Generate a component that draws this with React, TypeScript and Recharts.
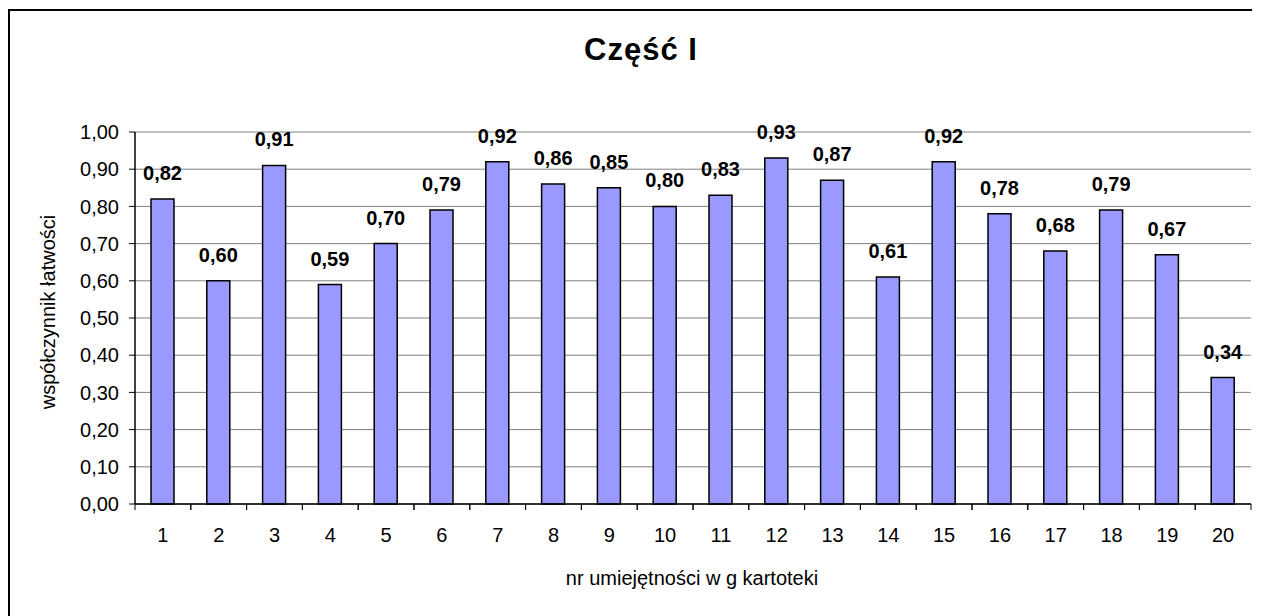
import { Bar, BarChart, CartesianGrid, LabelList, XAxis, YAxis } from "recharts";

const categories = ["1", "2", "3", "4", "5", "6", "7", "8", "9", "10", "11", "12", "13", "14", "15", "16", "17", "18", "19", "20"];
const easiness = [0.82, 0.6, 0.91, 0.59, 0.7, 0.79, 0.92, 0.86, 0.85, 0.8, 0.83, 0.93, 0.87, 0.61, 0.92, 0.78, 0.68, 0.79, 0.67, 0.34];
const yTicks = [0, 0.1, 0.2, 0.3, 0.4, 0.5, 0.6, 0.7, 0.8, 0.9, 1];

const data = categories.map((label, i) => ({ label, value: easiness[i] }));

const font = "'Liberation Sans', Arial, sans-serif";
const fmt = (v: number) => v.toFixed(2).replace(".", ",");

function CategoryTick(props: any) {
  const { x, y, payload, width } = props;
  const half = payload?.offset ?? width / categories.length / 2;
  return (
    <g>
      <line x1={x - half} y1={y} x2={x - half} y2={y + 6} stroke="#000" />
      <line x1={x + half} y1={y} x2={x + half} y2={y + 6} stroke="#000" />
      <text x={x} y={y + 38} textAnchor="middle" fontSize={20} fontFamily={font} fill="#000">
        {payload.value}
      </text>
    </g>
  );
}

export default function App() {
  return (
    <div
      style={{
        position: "absolute",
        left: 0,
        top: 0,
        width: 1261,
        height: 616,
        overflow: "hidden",
        background: "#fff",
        fontFamily: font,
      }}
    >
      {/* frame: only top and left edges are visible in the source */}
      <div style={{ position: "absolute", left: 8, top: 9, width: 1244, height: 2, background: "#000" }} />
      <div style={{ position: "absolute", left: 8, top: 9, width: 2, height: 610, background: "#000" }} />
      <div
        style={{
          position: "absolute",
          left: 0,
          top: 32,
          width: 1282,
          textAlign: "center",
          fontSize: 31,
          fontWeight: "bold",
          letterSpacing: 1,
          lineHeight: "36px",
        }}
      >
        Część I
      </div>
      <div
        style={{
          position: "absolute",
          left: 0,
          top: 566,
          width: 1261,
          paddingLeft: 123,
          boxSizing: "border-box",
          textAlign: "center",
          fontSize: 20,
          lineHeight: "24px",
        }}
      >
        nr umiejętności w g kartoteki
      </div>
      <div
        style={{
          position: "absolute",
          left: 48,
          top: 312,
          transform: "translate(-50%, -50%) rotate(-90deg)",
          whiteSpace: "nowrap",
          fontSize: 20,
          lineHeight: "24px",
        }}
      >
        współczynnik łatwości
      </div>
      <div style={{ position: "absolute", left: 0, top: 0 }}>
        <BarChart width={1261} height={616} data={data} margin={{ top: 132, right: 10, left: 10, bottom: 72 }}>
          <CartesianGrid vertical={false} stroke="#808080" />
          <XAxis
            dataKey="label"
            height={40}
            tickSize={0}
            tickMargin={0}
            tickLine={false}
            axisLine={{ stroke: "#000", strokeWidth: 1.5 }}
            tick={<CategoryTick />}
            interval={0}
          />
          <YAxis
            width={125}
            domain={[0, 1]}
            ticks={yTicks}
            tickFormatter={fmt}
            tickSize={6}
            tickMargin={10}
            tickLine={{ stroke: "#000" }}
            axisLine={{ stroke: "#000", strokeWidth: 1.5 }}
            tick={{ fill: "#000", fontSize: 20, fontFamily: font }}
          />
          <YAxis
            yAxisId="right"
            orientation="right"
            width={0}
            domain={[0, 1]}
            tick={false}
            tickLine={false}
            axisLine={{ stroke: "#808080" }}
          />
          <Bar dataKey="value" fill="#9999FF" stroke="#000" strokeWidth={1.5} barSize={23} isAnimationActive={false}>
            <LabelList
              dataKey="value"
              position="top"
              offset={19}
              formatter={(v: any) => fmt(Number(v))}
              style={{ fill: "#000", fontSize: 20, fontWeight: "bold", fontFamily: font }}
            />
          </Bar>
        </BarChart>
      </div>
    </div>
  );
}
